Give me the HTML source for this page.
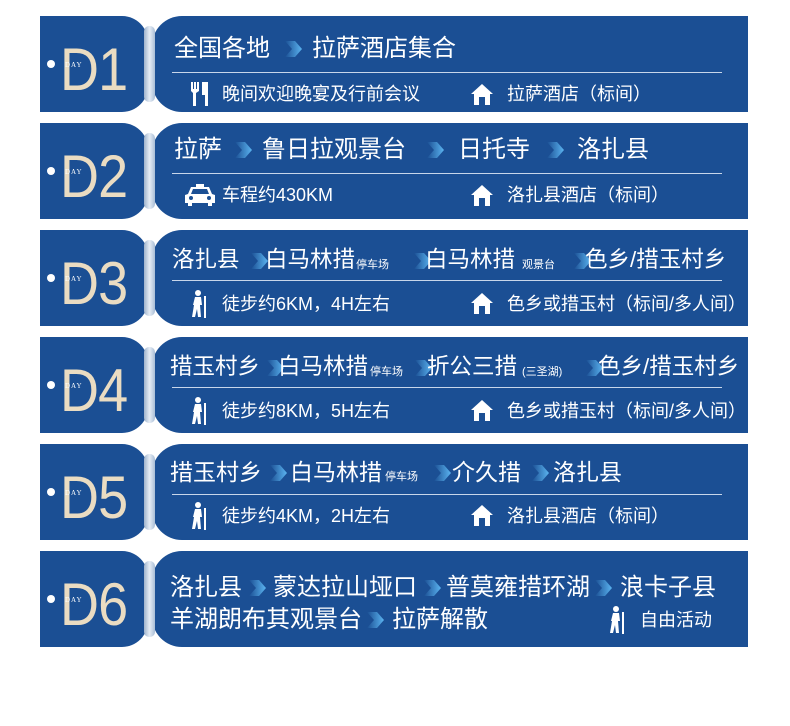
<!DOCTYPE html>
<html><head><meta charset="utf-8"><style>
body{margin:0;width:790px;height:726px;background:#fff;position:relative;overflow:hidden;font-family:"Liberation Sans","Noto Sans CJK SC",sans-serif;}
.row{position:absolute;left:40px;width:708px;height:96px;}
.tab{position:absolute;left:0;top:0;width:108px;height:96px;background:#1b4f94;border-radius:0 26px 26px 0;}
.strip{position:absolute;left:104px;top:10px;width:11px;height:76px;background:linear-gradient(90deg,#9fb3cc,#e6edf5,#a9bdd6);border-radius:5px;}
.panel{position:absolute;left:112px;top:0;width:596px;height:96px;background:#1b4f94;border-radius:30px 0 0 30px;}
.dot{position:absolute;left:7px;top:44px;width:8px;height:8px;border-radius:50%;background:#fff;}
.day{position:absolute;left:25px;top:45px;font-size:7px;color:#fff;font-family:"Liberation Serif",serif;letter-spacing:1px;z-index:2;}
.dn{position:absolute;left:20px;top:24px;font-size:60px;line-height:60px;color:#eadcc2;letter-spacing:-1px;transform:scaleX(0.9);transform-origin:left;}
.t{position:absolute;color:#fff;font-size:24px;line-height:28px;white-space:nowrap;margin-top:2px;}
.r34 .t{font-size:22.5px;}
.r5 .t{font-size:23px;}
.s{position:absolute;color:#fff;font-size:11px;line-height:14px;white-space:nowrap;margin-top:2px;}
.m{position:absolute;color:#fff;font-size:18px;line-height:22px;white-space:nowrap;}
.ar{position:absolute;width:20px;height:18px;margin-top:2px;}
.line{position:absolute;left:132px;width:550px;height:1px;background:#c8d6ea;}
.ic{position:absolute;}
</style></head><body>
<svg width="0" height="0" style="position:absolute"><defs>
<linearGradient id="g" x1="0" x2="1"><stop offset="0" stop-color="#1b4f94"/><stop offset="1" stop-color="#5bb4f0"/></linearGradient>
<symbol id="arr" viewBox="0 0 20 18"><path d="M2 1 L12 1 L19 9 L12 17 L2 17 L9 9 Z" fill="url(#g)"/></symbol>
<symbol id="house" viewBox="0 0 24 24"><path d="M12 2 L23 12 L20 12 L20 23 L15 23 L15 15 L9 15 L9 23 L4 23 L4 12 L1 12 Z" fill="#fff"/></symbol>
<symbol id="walk" viewBox="0 0 20 28"><circle cx="8" cy="3" r="3" fill="#fff"/><path d="M5 7 L11 7 L12 15 L10 15 L11 27 L8 27 L7 19 L5 27 L2 27 L4 15 L3 15 Z" fill="#fff"/><rect x="14" y="6" width="2" height="22" fill="#fff"/></symbol>
<symbol id="fork" viewBox="0 0 20 24"><path d="M1 0 L3 0 L3 7 L4 7 L4 0 L6 0 L6 7 L7 7 L7 0 L9 0 L9 9 L6 11 L6 24 L3 24 L3 11 L1 9 Z M12 0 L18 0 L18 24 L15 24 L15 13 L12 13 Z" fill="#fff"/></symbol>
<symbol id="car" viewBox="0 0 30 22"><path d="M11 0 L19 0 L19 3 L24 3 L27 10 L30 11 L30 19 L27 19 L27 22 L23 22 L23 19 L7 19 L7 22 L3 22 L3 19 L0 19 L0 11 L3 10 L6 3 L11 3 Z M8 5 L6 10 L24 10 L22 5 Z" fill="#fff"/><circle cx="6" cy="14" r="2" fill="#1b4f94"/><circle cx="24" cy="14" r="2" fill="#1b4f94"/></symbol>
</defs></svg>

<!-- D1 -->
<div class="row" style="top:16px"><div class="tab"></div><div class="panel"></div><div class="strip"></div><div class="dot"></div><div class="dn">D1</div><div class="day">DAY</div>
<div class="t" style="left:134px;top:17px">全国各地</div><svg class="ar" style="left:243px;top:22px"><use href="#arr"/></svg><div class="t" style="left:272px;top:17px">拉萨酒店集合</div>
<div class="line" style="top:56px"></div>
<svg class="ic" style="left:150px;top:66px" width="20" height="24"><use href="#fork"/></svg><div class="m" style="left:182px;top:67px">晚间欢迎晚宴及行前会议</div>
<svg class="ic" style="left:430px;top:66px" width="24" height="24"><use href="#house"/></svg><div class="m" style="left:467px;top:67px">拉萨酒店（标间）</div>
</div>
<!-- D2 -->
<div class="row" style="top:123px"><div class="tab"></div><div class="panel"></div><div class="strip"></div><div class="dot"></div><div class="dn">D2</div><div class="day">DAY</div>
<div class="t" style="left:134px;top:11px">拉萨</div><svg class="ar" style="left:193px;top:16px"><use href="#arr"/></svg><div class="t" style="left:222px;top:11px">鲁日拉观景台</div><svg class="ar" style="left:385px;top:16px"><use href="#arr"/></svg><div class="t" style="left:418px;top:11px">日托寺</div><svg class="ar" style="left:505px;top:16px"><use href="#arr"/></svg><div class="t" style="left:537px;top:11px">洛扎县</div>
<div class="line" style="top:50px"></div>
<svg class="ic" style="left:145px;top:61px" width="30" height="22"><use href="#car"/></svg><div class="m" style="left:182px;top:61px">车程约430KM</div>
<svg class="ic" style="left:430px;top:60px" width="24" height="24"><use href="#house"/></svg><div class="m" style="left:467px;top:61px">洛扎县酒店（标间）</div>
</div>
<!-- D3 -->
<div class="row r34" style="top:230px"><div class="tab"></div><div class="panel"></div><div class="strip"></div><div class="dot"></div><div class="dn">D3</div><div class="day">DAY</div>
<div class="t" style="left:132px;top:14px">洛扎县</div><svg class="ar" style="left:209px;top:20px" width="14"><use href="#arr"/></svg><div class="t" style="left:225px;top:14px">白马林措</div><div class="s" style="left:316px;top:26px">停车场</div><svg class="ar" style="left:372px;top:20px" width="14"><use href="#arr"/></svg><div class="t" style="left:385px;top:14px">白马林措</div><div class="s" style="left:482px;top:26px">观景台</div><svg class="ar" style="left:532px;top:20px" width="14"><use href="#arr"/></svg><div class="t" style="left:545px;top:14px">色乡/措玉村乡</div>
<div class="line" style="top:50px"></div>
<svg class="ic" style="left:150px;top:60px" width="20" height="28"><use href="#walk"/></svg><div class="m" style="left:182px;top:63px">徒步约6KM，4H左右</div>
<svg class="ic" style="left:430px;top:61px" width="24" height="24"><use href="#house"/></svg><div class="m" style="left:467px;top:63px">色乡或措玉村（标间/多人间）</div>
</div>
<!-- D4 -->
<div class="row r34" style="top:337px"><div class="tab"></div><div class="panel"></div><div class="strip"></div><div class="dot"></div><div class="dn">D4</div><div class="day">DAY</div>
<div class="t" style="left:130px;top:14px">措玉村乡</div><svg class="ar" style="left:225px;top:20px" width="14"><use href="#arr"/></svg><div class="t" style="left:238px;top:14px">白马林措</div><div class="s" style="left:330px;top:26px">停车场</div><svg class="ar" style="left:373px;top:20px" width="14"><use href="#arr"/></svg><div class="t" style="left:387px;top:14px">折公三措</div><div class="s" style="left:482px;top:26px">(三圣湖)</div><svg class="ar" style="left:544px;top:20px" width="14"><use href="#arr"/></svg><div class="t" style="left:558px;top:14px">色乡/措玉村乡</div>
<div class="line" style="top:50px"></div>
<svg class="ic" style="left:150px;top:60px" width="20" height="28"><use href="#walk"/></svg><div class="m" style="left:182px;top:63px">徒步约8KM，5H左右</div>
<svg class="ic" style="left:430px;top:61px" width="24" height="24"><use href="#house"/></svg><div class="m" style="left:467px;top:63px">色乡或措玉村（标间/多人间）</div>
</div>
<!-- D5 -->
<div class="row r5" style="top:444px"><div class="tab"></div><div class="panel"></div><div class="strip"></div><div class="dot"></div><div class="dn">D5</div><div class="day">DAY</div>
<div class="t" style="left:130px;top:12px">措玉村乡</div><svg class="ar" style="left:228px;top:18px" width="16"><use href="#arr"/></svg><div class="t" style="left:250px;top:12px">白马林措</div><div class="s" style="left:345px;top:24px">停车场</div><svg class="ar" style="left:392px;top:18px" width="16"><use href="#arr"/></svg><div class="t" style="left:412px;top:12px">介久措</div><svg class="ar" style="left:490px;top:18px" width="16"><use href="#arr"/></svg><div class="t" style="left:513px;top:12px">洛扎县</div>
<div class="line" style="top:50px"></div>
<svg class="ic" style="left:150px;top:58px" width="20" height="28"><use href="#walk"/></svg><div class="m" style="left:182px;top:61px">徒步约4KM，2H左右</div>
<svg class="ic" style="left:430px;top:59px" width="24" height="24"><use href="#house"/></svg><div class="m" style="left:467px;top:61px">洛扎县酒店（标间）</div>
</div>
<!-- D6 -->
<div class="row" style="top:551px"><div class="tab"></div><div class="panel"></div><div class="strip"></div><div class="dot"></div><div class="dn">D6</div><div class="day">DAY</div>
<div class="t" style="left:130px;top:21px">洛扎县</div><svg class="ar" style="left:207px;top:26px"><use href="#arr"/></svg><div class="t" style="left:233px;top:21px">蒙达拉山垭口</div><svg class="ar" style="left:382px;top:26px"><use href="#arr"/></svg><div class="t" style="left:406px;top:21px">普莫雍措环湖</div><svg class="ar" style="left:553px;top:26px"><use href="#arr"/></svg><div class="t" style="left:580px;top:21px">浪卡子县</div>
<div class="t" style="left:130px;top:53px">羊湖朗布其观景台</div><svg class="ar" style="left:325px;top:58px"><use href="#arr"/></svg><div class="t" style="left:352px;top:53px">拉萨解散</div>
<svg class="ic" style="left:568px;top:55px" width="20" height="28"><use href="#walk"/></svg><div class="m" style="left:600px;top:58px">自由活动</div>
</div>
</body></html>
